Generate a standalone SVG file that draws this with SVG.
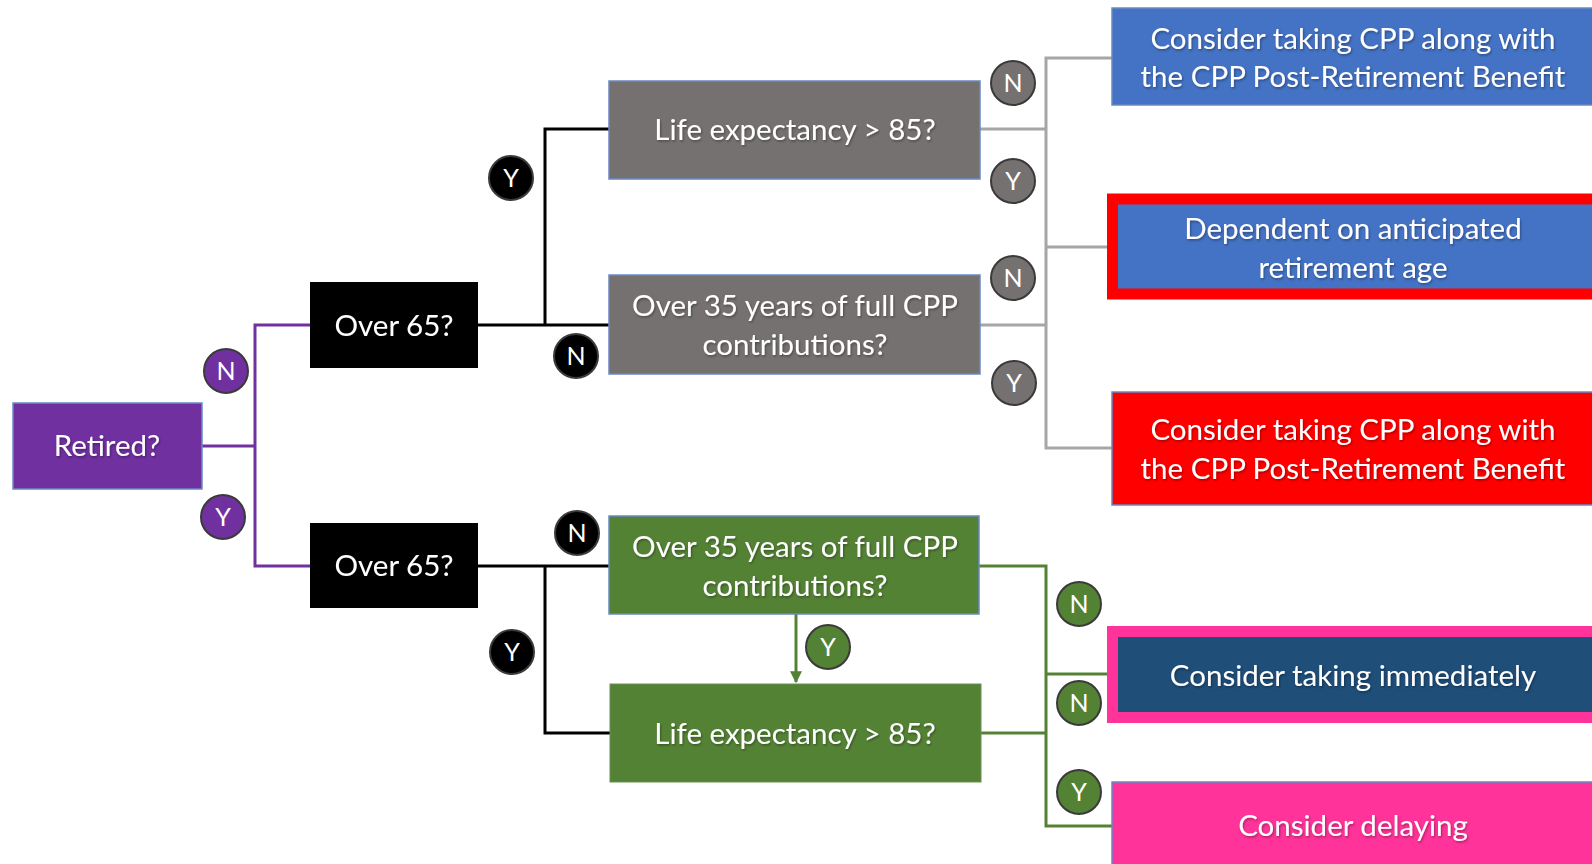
<svg xmlns="http://www.w3.org/2000/svg" width="1592" height="864" viewBox="0 0 1592 864">
<style>
.t{font-family:Lato,"Open Sans","Liberation Sans",sans-serif;font-size:29.5px;fill:#fff;text-anchor:middle;filter:url(#sh)}
.c{font-family:Lato,"Open Sans","Liberation Sans",sans-serif;font-size:25px;fill:#fff;text-anchor:middle}
.bx{stroke:#6A89C4;stroke-width:1.5}
.ln{fill:none;stroke-width:3}
.cir{stroke:#3a3a3a;stroke-width:2}
</style>
<defs>
<filter id="sh" x="-5%" y="-20%" width="110%" height="140%"><feDropShadow dx="1" dy="1.5" stdDeviation="1" flood-color="#000" flood-opacity="0.35"/></filter>
<marker id="ag" viewBox="0 0 10 10" refX="9" refY="5" markerWidth="4" markerHeight="4" orient="auto"><path d="M0,0 L10,5 L0,10 z" fill="#548235"/></marker>
</defs>
<rect width="1592" height="864" fill="#fff"/>
<g id="connectors">
<polyline class="ln" stroke="#7030A0" points="202,446 255,446"/>
<polyline class="ln" stroke="#7030A0" points="310,325 255,325 255,566 310,566"/>
<polyline class="ln" stroke="#000" points="478,325 609,325"/>
<polyline class="ln" stroke="#000" points="545,325 545,129 609,129"/>
<polyline class="ln" stroke="#000" points="478,566 609,566"/>
<polyline class="ln" stroke="#000" points="545,566 545,733 610,733"/>
<polyline class="ln" stroke="#A6A6A6" points="980,129 1046,129"/>
<polyline class="ln" stroke="#A6A6A6" points="980,325 1046,325"/>
<polyline class="ln" stroke="#A6A6A6" points="1112,58 1046,58 1046,448 1112,448"/>
<polyline class="ln" stroke="#A6A6A6" points="1046,247 1107,247"/>
<polyline class="ln" stroke="#548235" points="979,566 1046,566 1046,826 1112,826"/>
<polyline class="ln" stroke="#548235" points="1046,674 1107,674"/>
<polyline class="ln" stroke="#548235" points="981,733 1046,733"/>
<line class="ln" stroke="#548235" x1="796" y1="614" x2="796" y2="682" marker-end="url(#ag)"/>
</g>
<g id="retired"><rect class="bx" x="13" y="403" width="189" height="86" fill="#7030A0"/><text class="t" x="107" y="456">Retired?</text></g>
<g id="over65a"><rect x="310" y="282" width="168" height="86" fill="#000"/><text class="t" x="394" y="336">Over 65?</text></g>
<g id="over65b"><rect x="310" y="523" width="168" height="85" fill="#000"/><text class="t" x="394" y="576">Over 65?</text></g>
<g id="life1"><rect class="bx" x="609" y="81" width="371" height="98" fill="#767171"/><text class="t" x="795" y="140">Life expectancy &gt; 85?</text></g>
<g id="over35a"><rect class="bx" x="609" y="275" width="371" height="99" fill="#767171"/><text class="t" x="795" y="316">Over 35 years of full CPP</text><text class="t" x="795" y="355">contributions?</text></g>
<g id="over35b"><rect class="bx" x="609" y="516" width="370" height="98" fill="#548235"/><text class="t" x="795" y="557">Over 35 years of full CPP</text><text class="t" x="795" y="596">contributions?</text></g>
<g id="life2"><rect x="610" y="684" width="371" height="98" fill="#548235" stroke="#6b8f55" stroke-width="1"/><text class="t" x="795" y="744">Life expectancy &gt; 85?</text></g>
<g id="res1"><rect class="bx" x="1112" y="8" width="484" height="97" fill="#4472C4"/><text class="t" x="1353" y="49">Consider taking CPP along with</text><text class="t" x="1353" y="87">the CPP Post-Retirement Benefit</text></g>
<g id="res2"><rect x="1112.5" y="199" width="490" height="95" fill="#4472C4" stroke="#FF0000" stroke-width="11"/><text class="t" x="1353" y="239">Dependent on anticipated</text><text class="t" x="1353" y="278">retirement age</text></g>
<g id="res3"><rect class="bx" x="1112" y="392" width="484" height="113" fill="#FF0000"/><text class="t" x="1353" y="440">Consider taking CPP along with</text><text class="t" x="1353" y="479">the CPP Post-Retirement Benefit</text></g>
<g id="res4"><rect x="1112.5" y="631.5" width="490" height="86" fill="#1F4E79" stroke="#FF3399" stroke-width="11"/><text class="t" x="1353" y="686">Consider taking immediately</text></g>
<g id="res5"><rect class="bx" x="1112" y="782" width="484" height="90" fill="#FF3399"/><text class="t" x="1353" y="836">Consider delaying</text></g>
<g id="labels">
<g id="lblN1"><circle class="cir" cx="226" cy="371" r="22" fill="#7030A0"/><text class="c" x="226" y="380">N</text></g>
<g id="lblY1"><circle class="cir" cx="223" cy="517" r="22" fill="#7030A0"/><text class="c" x="223" y="526">Y</text></g>
<g id="lblY2"><circle class="cir" cx="511" cy="178" r="22" fill="#000"/><text class="c" x="511" y="187">Y</text></g>
<g id="lblN2"><circle class="cir" cx="576" cy="356" r="22" fill="#000"/><text class="c" x="576" y="365">N</text></g>
<g id="lblN3"><circle class="cir" cx="577" cy="533" r="22" fill="#000"/><text class="c" x="577" y="542">N</text></g>
<g id="lblY3"><circle class="cir" cx="512" cy="652" r="22" fill="#000"/><text class="c" x="512" y="661">Y</text></g>
<g id="lblN4"><circle class="cir" cx="1013" cy="83" r="22" fill="#767171"/><text class="c" x="1013" y="92">N</text></g>
<g id="lblY4"><circle class="cir" cx="1013" cy="181" r="22" fill="#767171"/><text class="c" x="1013" y="190">Y</text></g>
<g id="lblN5"><circle class="cir" cx="1013" cy="278" r="22" fill="#767171"/><text class="c" x="1013" y="287">N</text></g>
<g id="lblY5"><circle class="cir" cx="1014" cy="383" r="22" fill="#767171"/><text class="c" x="1014" y="392">Y</text></g>
<g id="lblY6"><circle class="cir" cx="828" cy="647" r="22" fill="#548235"/><text class="c" x="828" y="656">Y</text></g>
<g id="lblN6"><circle class="cir" cx="1079" cy="604" r="22" fill="#548235"/><text class="c" x="1079" y="613">N</text></g>
<g id="lblN7"><circle class="cir" cx="1079" cy="703" r="22" fill="#548235"/><text class="c" x="1079" y="712">N</text></g>
<g id="lblY7"><circle class="cir" cx="1079" cy="792" r="22" fill="#548235"/><text class="c" x="1079" y="801">Y</text></g>
</g>
</svg>
